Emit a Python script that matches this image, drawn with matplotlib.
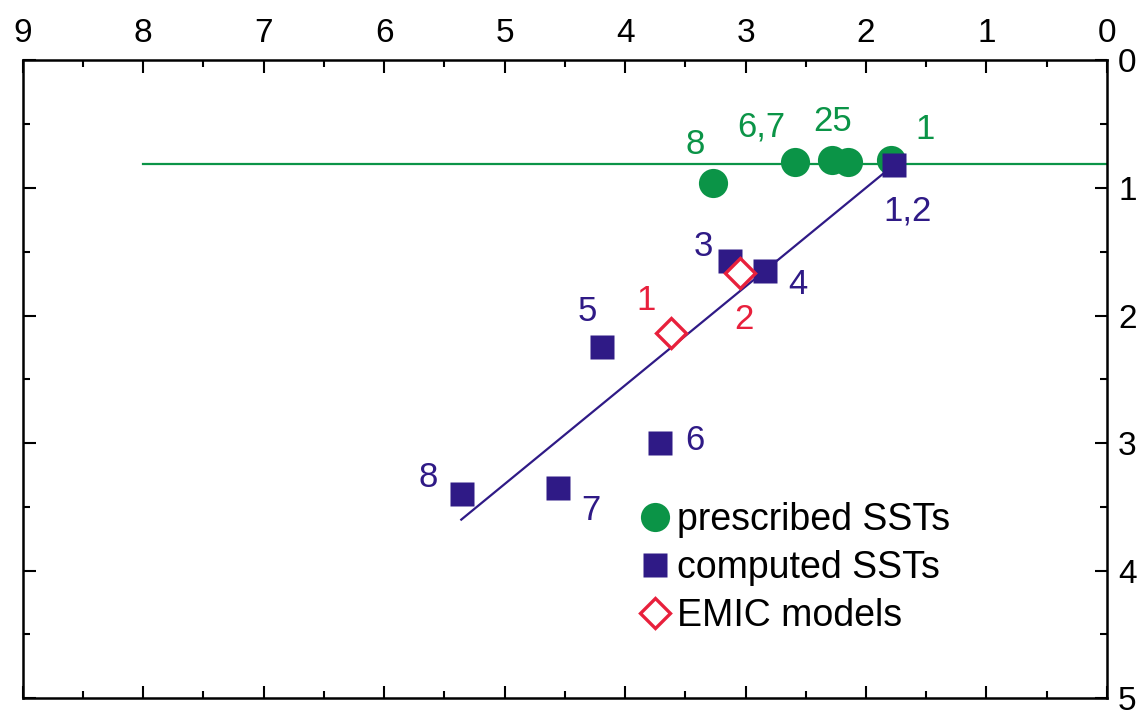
import matplotlib
matplotlib.use("Agg")
from matplotlib import pyplot as plt
from matplotlib.ticker import MultipleLocator

plt.rcParams['font.family'] = ['Liberation Sans', 'DejaVu Sans']

GREEN = '#0b9447'
BLUE = '#2f1a86'
RED = '#e8203c'

# prescribed SSTs (green circles)
pres_x = [1.79, 2.28, 2.15, 2.59, 3.27]
pres_y = [0.78, 0.78, 0.80, 0.80, 0.96]
pres_lab = ['1', '25', '', '6,7', '8']

# computed SSTs (blue squares)
comp_x = [1.77, 3.13, 2.84, 4.19, 3.71, 4.56, 5.35]
comp_y = [0.82, 1.57, 1.65, 2.25, 3.00, 3.35, 3.40]
comp_lab = ['1,2', '3', '4', '5', '6', '7', '8']

# EMIC models (red diamonds)
emic_x = [3.62, 3.05]
emic_y = [2.14, 1.67]
emic_lab = ['1', '2']

# reference lines
green_line_x = [8.0, 0.0]
green_line_y = [0.81, 0.81]
fit_x = [5.36, 1.77]
fit_y = [3.60, 0.82]

fig = plt.figure(figsize=(11.4, 7.11), dpi=100)
ax = fig.add_axes([0.020, 0.018, 0.951, 0.897])

ax.plot(green_line_x, green_line_y, color=GREEN, lw=1.6, zorder=1)
ax.plot(fit_x, fit_y, color=BLUE, lw=1.6, zorder=1)

ax.plot(pres_x, pres_y, 'o', color=GREEN, ms=21, mec='none', zorder=2)
ax.plot(comp_x, comp_y, 's', color=BLUE, ms=17, mec='none', zorder=3)
ax.plot(emic_x, emic_y, 'D', mfc='white', mec=RED, mew=2.4, ms=15, zorder=4)

# point labels, offsets in points
pres_off = [(24, 10), (0, 16), (0, 0), (-24, 14), (-13, 16)]
for x, y, t, off in zip(pres_x, pres_y, pres_lab, pres_off):
    if t:
        ax.annotate(t, (x, y), xytext=off, textcoords='offset points',
                    color=GREEN, fontsize=25, ha='center', va='bottom')

comp_off = [(10, -45), (-19, -2), (24, -22), (-11, 14), (25, -10), (24, -28), (-25, 0)]
for x, y, t, off in zip(comp_x, comp_y, comp_lab, comp_off):
    ax.annotate(t, (x, y), xytext=off, textcoords='offset points',
                color=BLUE, fontsize=25, ha='center', va='bottom')

emic_off = [(-18, 12), (3, -45)]
for x, y, t, off in zip(emic_x, emic_y, emic_lab, emic_off):
    ax.annotate(t, (x, y), xytext=off, textcoords='offset points',
                color=RED, fontsize=25, ha='center', va='bottom')

ax.set_xlim(9, 0)
ax.set_ylim(5, 0)

ax.xaxis.set_major_locator(MultipleLocator(1))
ax.xaxis.set_minor_locator(MultipleLocator(0.5))
ax.yaxis.set_major_locator(MultipleLocator(1))
ax.yaxis.set_minor_locator(MultipleLocator(0.5))
ax.tick_params(which='both', direction='in', top=True, bottom=True,
               left=True, right=True, labeltop=True, labelbottom=False,
               labelleft=False, labelright=True, width=1.5)
ax.tick_params(which='major', length=9, labelsize=24, pad=8)
ax.tick_params(which='minor', length=5)
for s in ax.spines.values():
    s.set_linewidth(1.8)

leg = [
    ax.plot([], [], 'o', color=GREEN, ms=21, mec='none', label='prescribed SSTs')[0],
    ax.plot([], [], 's', color=BLUE, ms=17, mec='none', label='computed SSTs')[0],
    ax.plot([], [], 'D', mfc='white', mec=RED, mew=2.4, ms=15, label='EMIC models')[0],
]
ax.legend(handles=leg, loc='upper left', bbox_to_anchor=(0.567, 0.307),
          frameon=False, fontsize=27, handletextpad=0.1, labelspacing=0.32,
          handlelength=0.95, borderaxespad=0, borderpad=0)

fig.savefig('out.png', dpi=100)
